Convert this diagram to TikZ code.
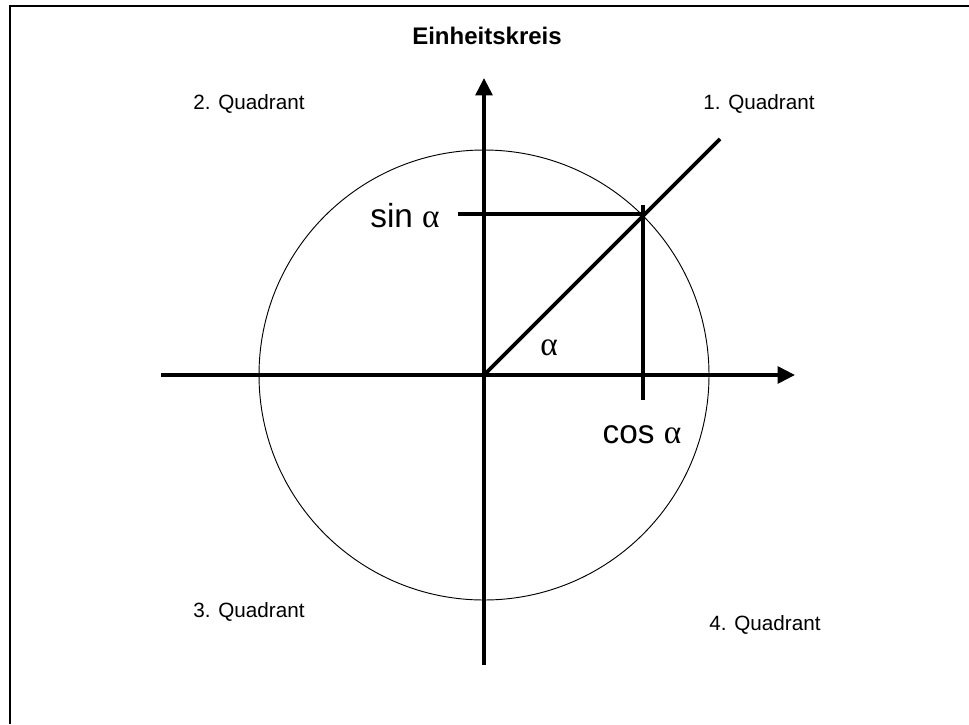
\documentclass[tikz,border=0pt]{standalone}
\usepackage{fontspec}
\setmainfont{Liberation Sans}
\newfontfamily\greekfont{Liberation Serif}
\usetikzlibrary{arrows.meta}

\begin{document}
\begin{tikzpicture}[x=0.75pt, y=-0.75pt]
\tikzstyle{axis} = [draw, line width=2.8pt, -{Triangle[width=12.5pt, length=13pt]}]
\tikzstyle{line} = [draw, line width=2.8pt]
\tikzstyle{quad} = [font=\fontsize{15.5}{18}\selectfont]
\tikzstyle{big} = [font=\fontsize{25}{30}\selectfont, anchor=base]

\useasboundingbox (0,0) rectangle (969,724);
% frame
\draw [line width=1.6pt] (10,724) -- (10,6) -- (969,6);

\coordinate (O) at (484,375);
\coordinate (xl) at (161,375);
\coordinate (xr) at (795,375);
\coordinate (yb) at (484,665);
\coordinate (yt) at (484,78);
\coordinate (P) at (643,216);
\coordinate (D) at (720,139);
\coordinate (sl) at (458,214);
\coordinate (ct) at (643,205);
\coordinate (cb) at (643,400);

% circle
\draw [line width=0.7pt] (O) circle (225);

% axes
\path [axis] (xl) -- (xr);
\path [axis] (yb) -- (yt);

\path [line] (O) -- (D);
\path [line] (sl) -- (P |- sl);
\path [line] (ct) -- (cb);

\node [font=\bfseries\fontsize{18}{21}\selectfont, anchor=base] (title) at (487,45) {Einheitskreis};
\node [quad] (q2) at (249,104) {2. Quadrant};
\node [quad] (q1) at (759,104) {1. Quadrant};
\node [quad] (q3) at (249,612) {3. Quadrant};
\node [quad] (q4) at (765,625) {4. Quadrant};
\node [big] (sin) at (405,227) {sin {\greekfont α}};
\node [big] (cos) at (642,443) {cos {\greekfont α}};
\node [big] (alpha) at (549,355) {\greekfont α};

\end{tikzpicture}
\end{document}
